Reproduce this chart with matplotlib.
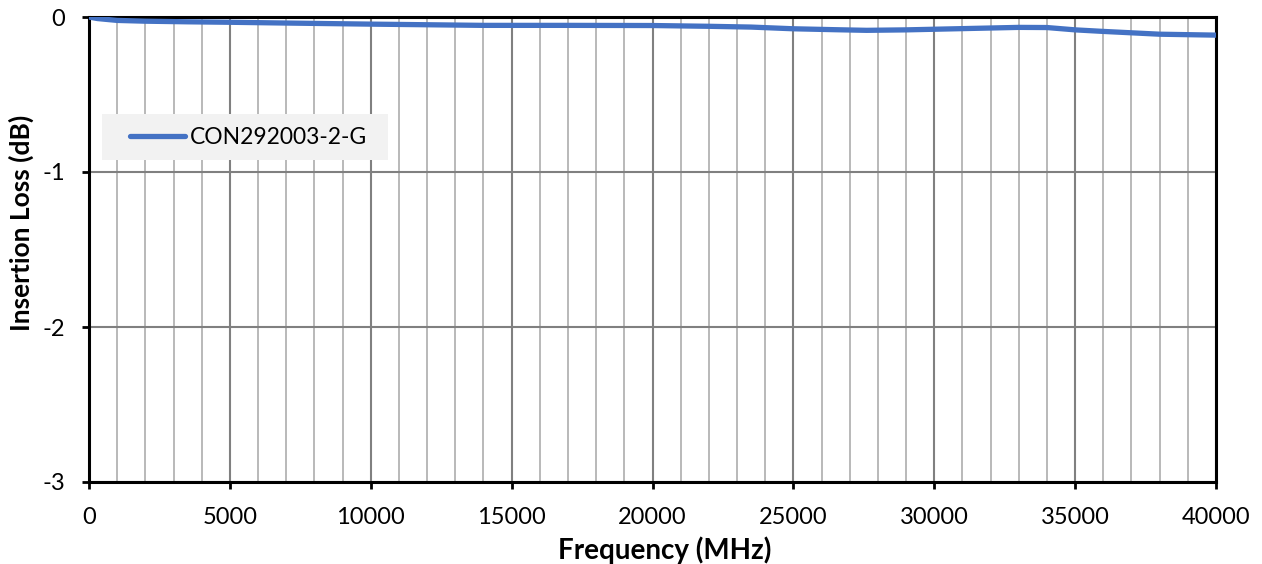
#Insertion loss vs frequency plot
import matplotlib
matplotlib.use('Agg')
import matplotlib.pyplot as plt
from matplotlib.patches import Rectangle
import numpy as np

plt.rcParams['font.family'] = ['Lato', 'DejaVu Sans']
plt.rcParams['axes.unicode_minus'] = False

#data points
freq = [0, 300, 1000, 2000, 3500, 5000, 7000, 10000, 14000, 17000, 20000, 22000,
        23500, 25000, 26500, 27600, 29000, 30000, 31000, 33000, 34000, 35000,
        36000, 37000, 38000, 39000, 40000]
loss = [0.0, -0.010, -0.022, -0.027, -0.031, -0.034, -0.039, -0.046, -0.054, -0.054,
        -0.055, -0.060, -0.065, -0.076, -0.082, -0.086, -0.083, -0.079, -0.075, -0.067,
        -0.068, -0.083, -0.093, -0.102, -0.111, -0.114, -0.117]
label = 'CON292003-2-G'

fig = plt.figure(figsize=(12.62, 5.64), dpi=100)
ax = fig.add_axes([89/1262, 1-482/564, (1216-89)/1262, (482-17)/564])

ax.plot(freq, loss, color='#4472c4', lw=3.8, label=label, solid_capstyle='round', zorder=3)

ax.set_xlim(0, 40000)
ax.set_ylim(-3, 0)
ax.set_xticks(np.arange(0, 40001, 5000))
ax.set_xticks(np.arange(0, 40001, 1000), minor=True)
ax.set_yticks([0, -1, -2, -3])
ax.grid(which='major', color='#808080', lw=1.5)
ax.grid(which='minor', axis='x', color='#a6a6a6', lw=1.1)
ax.tick_params(which='major', direction='out', length=5, width=2, labelsize=17)
ax.tick_params(axis='x', which='major', pad=13)
ax.tick_params(axis='y', which='major', pad=12)
ax.tick_params(which='minor', length=0)
for s in ax.spines.values():
    s.set_linewidth(2.2)
    s.set_color('black')

ax.set_xlabel('Frequency (MHz)', fontsize=20, fontweight='bold')
ax.set_ylabel('Insertion Loss (dB)', fontsize=19, fontweight='bold')
ax.xaxis.set_label_coords(0.511, -0.118)
ax.yaxis.set_label_coords(-0.049, 0.557)

#legend box drawn by hand so the padding matches
ax.add_patch(Rectangle((13/1127, 322/465), 286/1127, 46/465, transform=ax.transAxes,
                       facecolor='#f2f2f2', edgecolor='none', zorder=2))
leg = ax.legend(loc='center left', bbox_to_anchor=(41/1127, 1-121/465), fontsize=16.5,
                frameon=False, handlelength=2.4, handletextpad=0.22,
                borderpad=0, borderaxespad=0)

plt.savefig('out.png', dpi=100)
